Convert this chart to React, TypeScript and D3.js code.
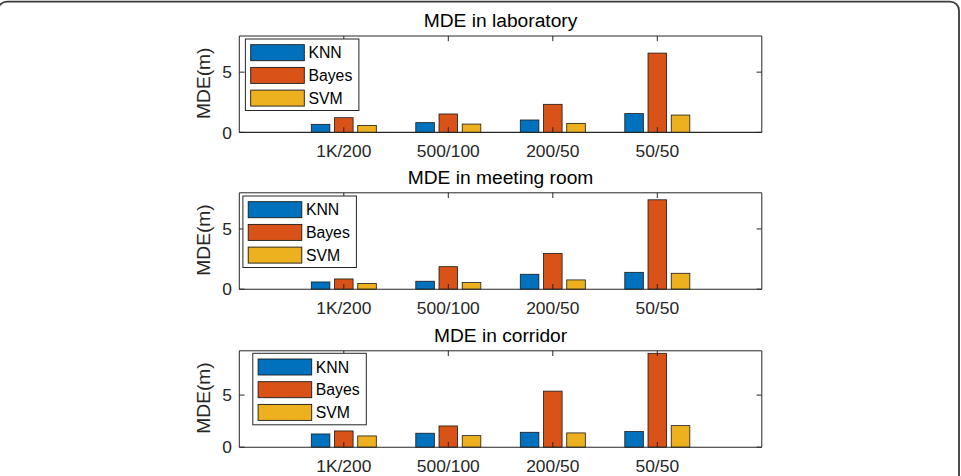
import React from 'react';
import * as d3 from 'd3';

const categories = ['1K/200', '500/100', '200/50', '50/50'];
const seriesNames = ['KNN', 'Bayes', 'SVM'];
const seriesColors = ['#0072BD', '#D95319', '#EDB120'];

const labKNN = [0.67, 0.81, 1.03, 1.56];
const labBayes = [1.22, 1.53, 2.33, 6.58];
const labSVM = [0.58, 0.69, 0.75, 1.44];

const meetKNN = [0.6, 0.66, 1.24, 1.4];
const meetBayes = [0.85, 1.87, 2.97, 7.42];
const meetSVM = [0.47, 0.55, 0.77, 1.32];

const corrKNN = [1.27, 1.34, 1.43, 1.5];
const corrBayes = [1.56, 2.04, 5.38, 9.01];
const corrSVM = [1.08, 1.11, 1.37, 2.07];

const titles = ['MDE in laboratory', 'MDE in meeting room', 'MDE in corridor'];
const yMaxes = [8, 8, 9.25];
const yTicks = [0, 5];

const panelsData = [
  [labKNN, labBayes, labSVM],
  [meetKNN, meetBayes, meetSVM],
  [corrKNN, corrBayes, corrSVM],
];

// layout
const W = 961;
const H = 476;
const axLeft = 239.3;
const axRight = 761.8;
const panelTops = [36, 192.8, 350.8];
const panelH = 96.4;
const legendLefts = [245.4, 242.9, 252.8];
const legendTopOffsets = [3, 3.2, 2.5];
const FONT = "'Liberation Sans', Arial, Helvetica, sans-serif";
const AX = '#262626';

function Panel({ idx }: { idx: number }) {
  const top = panelTops[idx];
  const bottom = top + panelH;
  const x = d3.scaleLinear().domain([0, 5]).range([axLeft, axRight]);
  const y = d3.scaleLinear().domain([0, yMaxes[idx]]).range([bottom, top]);
  const data = panelsData[idx];
  const groupW = 3 / 4.5 > 0.8 ? 0.8 : 3 / 4.5;
  const step = groupW / 3;
  const barW = step * 0.8;
  const tickLen = 5.2;
  const lgLeft = legendLefts[idx];
  const lgTop = top + legendTopOffsets[idx];
  const lgW = 113.5;
  const lgH = 71.5;
  const cx = (axLeft + axRight) / 2;

  return (
    <g>
      {/* bars */}
      {data.map((vals, s) =>
        vals.map((v, c) => {
          const xc = c + 1 + (s - 1) * step;
          const x0 = x(xc - barW / 2);
          const x1 = x(xc + barW / 2);
          return (
            <rect
              key={`b${s}-${c}`}
              x={x0}
              y={y(v)}
              width={x1 - x0}
              height={y(0) - y(v)}
              fill={seriesColors[s]}
              stroke="#1a1a1a"
              strokeWidth={0.8}
            />
          );
        })
      )}
      {/* box */}
      <line x1={axLeft} x2={axRight} y1={top} y2={top} stroke={AX} strokeWidth={1} />
      <line x1={axRight} x2={axRight} y1={top} y2={bottom} stroke={AX} strokeWidth={1} />
      <line x1={axLeft} x2={axLeft} y1={top} y2={bottom} stroke={AX} strokeWidth={1} />
      <line x1={axLeft} x2={axRight} y1={bottom} y2={bottom} stroke={AX} strokeWidth={1.1} />
      {/* x ticks */}
      {categories.map((c, i) => (
        <g key={`xt${i}`}>
          <line x1={x(i + 1)} x2={x(i + 1)} y1={bottom} y2={bottom - tickLen} stroke={AX} strokeWidth={1} />
          <line x1={x(i + 1)} x2={x(i + 1)} y1={top} y2={top + tickLen} stroke={AX} strokeWidth={1} />
          <text
            x={x(i + 1)}
            y={bottom + 24.8}
            textAnchor="middle"
            fontFamily={FONT}
            fontSize={17.4}
            fill={AX}
          >
            {c}
          </text>
        </g>
      ))}
      {/* y ticks */}
      {yTicks.map((t) => (
        <g key={`yt${t}`}>
          <line x1={axLeft} x2={axLeft + tickLen} y1={y(t)} y2={y(t)} stroke={AX} strokeWidth={1} />
          <line x1={axRight} x2={axRight - tickLen} y1={y(t)} y2={y(t)} stroke={AX} strokeWidth={1} />
          <text
            x={axLeft - 7.5}
            y={y(t)}
            dy="0.36em"
            textAnchor="end"
            fontFamily={FONT}
            fontSize={17.4}
            fill={AX}
          >
            {t}
          </text>
        </g>
      ))}
      {/* y label */}
      <text
        transform={`translate(209.5, ${(top + bottom) / 2 - 1}) rotate(-90)`}
        textAnchor="middle"
        fontFamily={FONT}
        fontSize={19.2}
        fill={AX}
      >
        MDE(m)
      </text>
      {/* title */}
      <text
        x={cx}
        y={top - 8.8}
        textAnchor="middle"
        fontFamily={FONT}
        fontSize={19.2}
        fill="#000"
      >
        {titles[idx]}
      </text>
      {/* legend */}
      <rect x={lgLeft} y={lgTop} width={lgW} height={lgH} fill="#fff" stroke={AX} strokeWidth={1} />
      {seriesNames.map((n, s) => {
        const ry = lgTop + 5.7 + s * 22.7;
        return (
          <g key={`lg${s}`}>
            <rect
              x={lgLeft + 5.3}
              y={ry}
              width={53.6}
              height={16}
              fill={seriesColors[s]}
              stroke="#1a1a1a"
              strokeWidth={0.9}
            />
            <text
              x={lgLeft + 63}
              y={ry + 8}
              dy="0.36em"
              fontFamily={FONT}
              fontSize={15.8}
              fill="#000"
            >
              {n}
            </text>
          </g>
        );
      })}
    </g>
  );
}

export default function App() {
  return (
    <svg
      width={W}
      height={H}
      style={{ position: 'absolute', left: 0, top: 0, background: '#fff' }}
    >
      <rect x={0} y={0} width={W} height={H} fill="#fff" />
      <rect x={-2} y={1.6} width={961} height={500} rx={9} ry={9} fill="none" stroke="#3a3a3a" strokeWidth={1.8} />
      {[0, 1, 2].map((i) => (
        <Panel key={i} idx={i} />
      ))}
    </svg>
  );
}
